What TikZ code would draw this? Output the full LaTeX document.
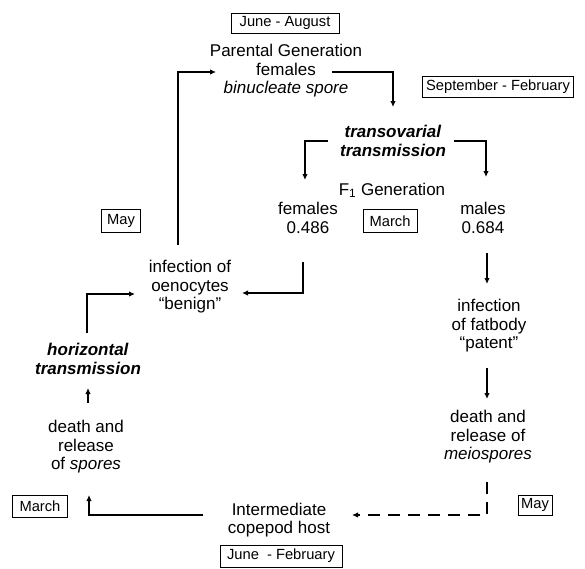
\documentclass[tikz,border=0pt]{standalone}
\usepackage{fontspec}
\setmainfont{Liberation Sans}
\usetikzlibrary{arrows.meta}
\begin{document}
\begin{tikzpicture}[x=1pt,y=-1pt,
  lbl/.style={font=\fontsize{17}{18.5}\selectfont, align=center, inner sep=0pt},
  mbox/.style={draw, line width=0.8pt, font=\fontsize{14.7}{16}\selectfont, inner sep=0pt, minimum height=21pt},
  conn/.style={line width=1.6pt},
  arr/.style={conn, -{Latex[length=6pt,width=5.5pt]}},
  dsh/.style={arr, dash pattern=on 12pt off 8pt}]
\useasboundingbox (0,0) rectangle (585,568);
% nodes
\node[mbox, minimum width=108pt, minimum height=20pt] (ja) at (285,23) {June - August};
\node[lbl] (par) at (286,71) {Parental Generation\\females\\\textit{binucleate spore}};
\node[mbox, minimum width=151pt] (sf) at (498,87) {September - February};
\node[lbl] (tov) at (393,141) {\textbf{\textit{transovarial}}\\\textbf{\textit{transmission}}};
\node[lbl, anchor=base] (f1) at (392,195) {F\textsubscript{1} Generation};
\node[lbl] (fem) at (308,218) {females\\0.486};
\node[mbox, minimum width=54pt, minimum height=23pt] (mar1) at (390,221) {March};
\node[lbl] (mal) at (483,218) {males\\0.684};
\node[mbox, minimum width=39pt, minimum height=23pt] (may1) at (121,221) {May};
\node[lbl] (infO) at (190,287) {infection of\\oenocytes\\“benign”};
\node[lbl] (infF) at (489,326) {infection\\of fatbody\\“patent”};
\node[lbl] (hor) at (88,359) {\textbf{\textit{horizontal}}\\\textbf{\textit{transmission}}};
\node[lbl] (dsp) at (86,447) {death and\\release\\of \textit{spores}};
\node[lbl] (dme) at (488,437) {death and\\release of\\\textit{meiospores}};
\node[mbox, minimum width=55pt, minimum height=22pt] (mar2) at (40,506) {March};
\node[mbox, minimum width=34pt, minimum height=20pt] (may2) at (535,505) {May};
\node[lbl] (int) at (279,520) {Intermediate\\copepod host};
\node[mbox, minimum width=122pt, minimum height=22pt] (jf) at (281,556) {June~ - February};
% connector end points
\coordinate (c1s) at (178,245); \coordinate (c1e) at (216,72);
\coordinate (c2s) at (332,72);  \coordinate (c2e) at (393,107);
\coordinate (c3s) at (328,141); \coordinate (c3e) at (305,180);
\coordinate (c4s) at (454,141); \coordinate (c4e) at (486,177);
\coordinate (c5s) at (487,253); \coordinate (c5e) at (487,284);
\coordinate (c6s) at (487,368); \coordinate (c6e) at (487,399);
\coordinate (c7s) at (487,482); \coordinate (c7e) at (352,515);
\coordinate (c8s) at (303,262); \coordinate (c8e) at (242,293);
\coordinate (c9s) at (203,515); \coordinate (c9e) at (89,495);
\coordinate (c10s) at (88,403); \coordinate (c10e) at (88,388);
\coordinate (c11s) at (87,333); \coordinate (c11e) at (135,294);
% connectors
\draw[arr] (c1s) |- (c1e);
\draw[arr] (c2s) -| (c2e);
\draw[arr] (c3s) -| (c3e);
\draw[arr] (c4s) -| (c4e);
\draw[arr] (c5s) -- (c5e);
\draw[arr] (c6s) -- (c6e);
\draw[dsh] (c7s) |- (c7e);
\draw[arr] (c8s) |- (c8e);
\draw[arr] (c9s) -| (c9e);
\draw[arr] (c10s) -- (c10e);
\draw[arr] (c11s) |- (c11e);
\end{tikzpicture}
\end{document}
